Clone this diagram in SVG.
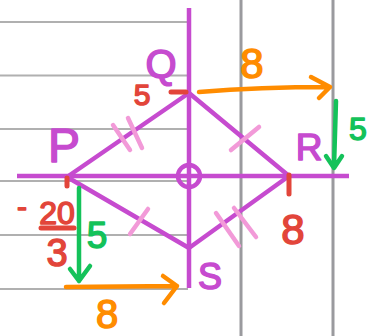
<svg xmlns="http://www.w3.org/2000/svg" width="379" height="336" viewBox="0 0 379 336">
<style>
.grid{stroke:#b0b0b0;stroke-width:2;fill:none}
.vgrid{stroke:#9a9a9e;stroke-width:3;fill:none}
.axis{stroke:#c64bcf;stroke-width:4.5;fill:none;stroke-linecap:butt}
.shape{stroke:#c64bcf;stroke-width:4.5;fill:none;stroke-linejoin:round}
.tick{stroke:#f29ad8;stroke-width:4.5;stroke-linecap:round;fill:none}
.red{stroke:#e2453a;stroke-width:5;stroke-linecap:round;fill:none}
.orange{stroke:#ff8c00;stroke-width:4.5;stroke-linecap:round;stroke-linejoin:round;fill:none}
.green{stroke:#14c25a;stroke-width:4.5;stroke-linecap:round;stroke-linejoin:round;fill:none}
text{font-family:"Liberation Sans","DejaVu Sans",sans-serif;text-anchor:middle;stroke-width:1.5;stroke-linejoin:round}
.tp{fill:#c64bcf;stroke:#c64bcf}
.tr{fill:#e2453a;stroke:#e2453a}
.to{fill:#ff8c00;stroke:#ff8c00}
.tg{fill:#14c25a;stroke:#14c25a}
</style>
<rect width="379" height="336" fill="#ffffff"/>
<g id="grid">
<line class="grid" x1="0" y1="22" x2="188" y2="22"/>
<line class="grid" x1="0" y1="75.5" x2="188" y2="75.5"/>
<line class="grid" x1="0" y1="129" x2="188" y2="129"/>
<line class="grid" x1="0" y1="181" x2="188" y2="181"/>
<line class="grid" x1="0" y1="235" x2="188" y2="235"/>
<line class="grid" x1="0" y1="289" x2="188" y2="289"/>
<line class="vgrid" x1="241" y1="0" x2="241" y2="336"/>
<line class="vgrid" x1="333" y1="0" x2="333" y2="336"/>
</g>
<g id="axes">
<line class="axis" x1="189" y1="8" x2="189" y2="288"/>
<line class="axis" x1="17" y1="176" x2="349" y2="176"/>
<circle cx="189" cy="176" r="11" fill="none" stroke="#c64bcf" stroke-width="4.5"/>
</g>
<g id="connectors">
<polygon class="shape" points="189,93 289,176 189,248 67,177"/>
<line class="tick" x1="113" y1="125" x2="130" y2="150"/>
<line class="tick" x1="128" y1="118" x2="142" y2="148"/>
<line class="tick" x1="231" y1="150" x2="259" y2="127"/>
<line class="tick" x1="130" y1="234" x2="148" y2="209"/>
<line class="tick" x1="216" y1="213" x2="239" y2="246"/>
<line class="tick" x1="234" y1="208" x2="256" y2="237"/>
<line class="red" x1="171" y1="92" x2="186" y2="92"/>
<line class="red" x1="67" y1="178" x2="67" y2="186"/>
<line class="red" x1="289" y1="175" x2="289" y2="194"/>
<path class="orange" d="M199,92 Q260,87 330,87 M311,77 L330,87 L319,98"/>
<path class="green" d="M336,101 L334,167 M326,156 L334,168 L342,156"/>
<path class="green" d="M79,188 L79,281 M70,269 L79,281 L90,266"/>
<path class="orange" d="M66,287 L177,286 M163,276 L177,286 L164,303"/>
<line class="red" x1="41" y1="228" x2="74" y2="228"/>
</g>
<g id="Q">
<text class="tp" x="161" y="78" font-size="40">Q</text>
<text class="tr" x="142" y="105" font-size="30">5</text>
</g>
<g id="P">
<text class="tp" x="64" y="162" font-size="48">P</text>
<text class="tr" x="22" y="217" font-size="30">-</text>
<text class="tr" x="57" y="224" font-size="32">20</text>
<text class="tr" x="57" y="266" font-size="38">3</text>
</g>
<g id="R">
<text class="tp" x="309" y="160" font-size="37">R</text>
<text class="tr" x="293" y="244" font-size="42">8</text>
</g>
<g id="S">
<text class="tp" x="210" y="289" font-size="36">S</text>
</g>
<g id="labels">
<text class="to" x="252" y="78" font-size="42">8</text>
<text class="tg" x="358" y="140" font-size="32">5</text>
<text class="tg" x="97" y="248" font-size="37">5</text>
<text class="to" x="107" y="328" font-size="40">8</text>
</g>
</svg>
